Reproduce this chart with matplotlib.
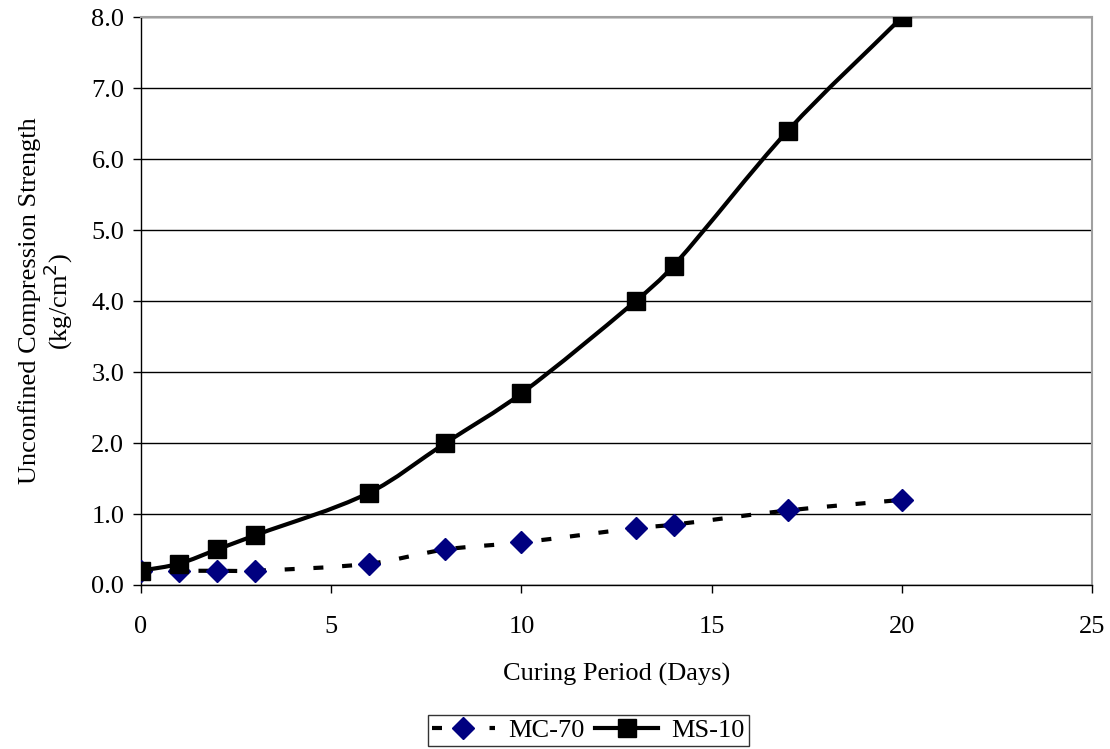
import numpy as np
import matplotlib
matplotlib.use("Agg")
import matplotlib.pyplot as plt
from matplotlib.path import Path
from matplotlib.patches import PathPatch
from matplotlib.lines import Line2D

plt.rcParams['font.family'] = ['Liberation Serif', 'DejaVu Serif']

days_mc = [0, 1, 2, 3, 6, 8, 10, 13, 14, 17, 20]
mc70 = [0.2, 0.2, 0.2, 0.2, 0.3, 0.5, 0.6, 0.8, 0.85, 1.05, 1.2]
days_ms = [0, 1, 2, 3, 6, 8, 10, 13, 14, 17, 20]
ms10 = [0.2, 0.3, 0.5, 0.7, 1.3, 2.0, 2.7, 4.0, 4.5, 6.4, 8.0]

DASH = (0, (2.4, 4.5))


def smooth_path(x, y):
    # smoothed line through the data points, drawn as cubic Bezier segments
    x = np.asarray(x, float)
    y = np.asarray(y, float)
    n = len(x)
    slope = np.empty(n)
    for i in range(n):
        a, b = max(i - 1, 0), min(i + 1, n - 1)
        slope[i] = (y[b] - y[a]) / (x[b] - x[a])
    verts = [(x[0], y[0])]
    codes = [Path.MOVETO]
    for i in range(n - 1):
        h = (x[i + 1] - x[i]) / 3.0
        verts += [(x[i] + h, y[i] + slope[i] * h),
                  (x[i + 1] - h, y[i + 1] - slope[i + 1] * h),
                  (x[i + 1], y[i + 1])]
        codes += [Path.CURVE4] * 3
    return Path(verts, codes)


fig = plt.figure(figsize=(11.1, 7.49), dpi=100)
ax = fig.add_axes([0.127, 0.219, 0.857, 0.758])

ax.add_patch(PathPatch(smooth_path(days_mc, mc70), fill=False, color='black',
                       lw=3, linestyle=DASH, zorder=3))
ax.plot(days_mc, mc70, linestyle='none', marker='D', ms=11, color='#000080', zorder=4)

ax.add_patch(PathPatch(smooth_path(days_ms, ms10), fill=False, color='black',
                       lw=3, zorder=5))
ax.plot(days_ms, ms10, linestyle='none', marker='s', ms=12.5, color='black', zorder=6)

ax.set_xlim(0, 25)
ax.set_ylim(0, 8)
ax.set_xticks([0, 5, 10, 15, 20, 25])
yt = np.arange(0, 8.01, 1.0)
ax.set_yticks(yt)
ax.set_yticklabels([f"{v:.1f}" for v in yt])
ax.tick_params(labelsize=19, length=6, width=1, direction='out', color='black')
ax.tick_params(axis='x', pad=16)
ax.tick_params(axis='y', pad=6)
ax.grid(axis='y', color='black', lw=1)
ax.set_axisbelow(True)
for s in ['top', 'right']:
    ax.spines[s].set_color('#a0a0a0')
    ax.spines[s].set_linewidth(1.5)
for s in ['left', 'bottom']:
    ax.spines[s].set_color('black')
    ax.spines[s].set_linewidth(1)

ax.set_xlabel('Curing Period (Days)', fontsize=19, labelpad=18)
ax.set_ylabel('Unconfined Compression Strength\n(kg/cm$^2$)', fontsize=19, labelpad=12,
              linespacing=1.0)

handles = [
    Line2D([], [], color='black', lw=3, linestyle=DASH, marker='D',
           ms=11, mfc='#000080', mec='#000080'),
    Line2D([], [], color='black', lw=3, marker='s', ms=12.5),
]
fig.legend(handles, ['MC-70', 'MS-10'], loc='lower center', bbox_to_anchor=(0.53, 0.0),
           ncol=2, fontsize=19, frameon=True, fancybox=False, edgecolor='black',
           handlelength=2.4, columnspacing=0.4, handletextpad=0.5,
           borderpad=0.15, borderaxespad=0.1)

fig.savefig('out.png', dpi=100)
